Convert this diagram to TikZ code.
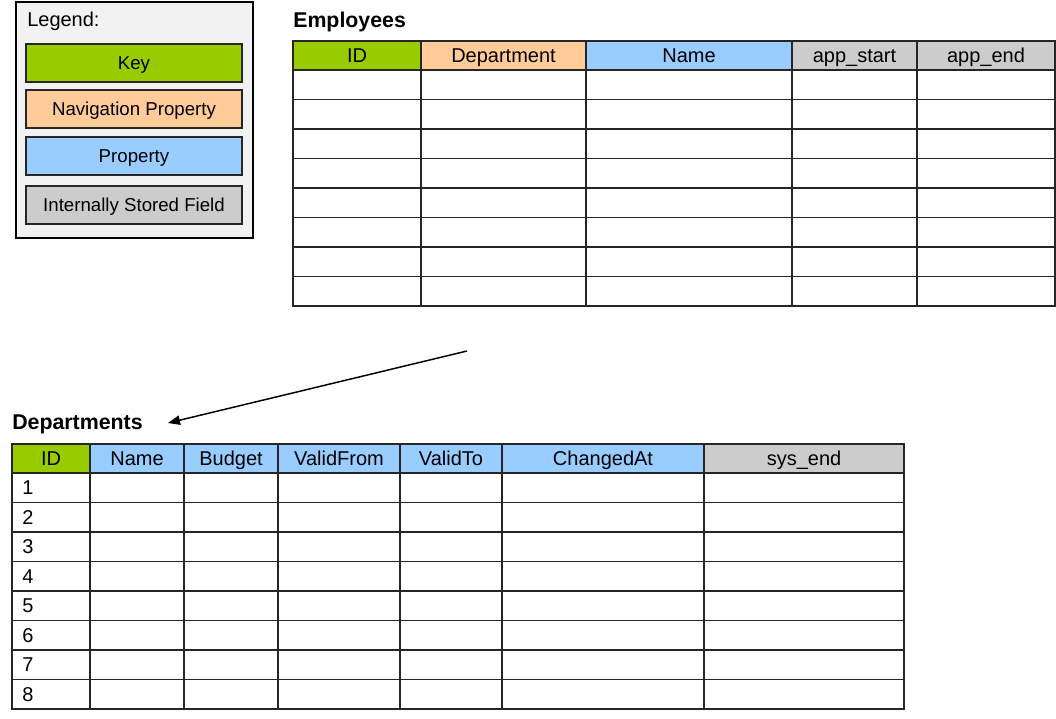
\documentclass[tikz,border=0pt]{standalone}
\usepackage{fontspec}
\setmainfont{Liberation Sans}
\usetikzlibrary{arrows.meta,positioning}

\definecolor{keygreen}{HTML}{99CC00}
\definecolor{navorange}{HTML}{FFCC99}
\definecolor{propblue}{HTML}{99CCFF}
\definecolor{storedgray}{HTML}{CCCCCC}
\definecolor{legendback}{HTML}{F2F2F2}
\definecolor{gridline}{HTML}{262626}

\tikzset{
  cell/.style={draw=gridline, line width=0.8pt},
  headtext/.style={font=\fontsize{15}{18}\selectfont, text height=13pt, text depth=2.3pt, inner sep=0pt},
  legenditem/.style={draw=gridline, line width=1.5pt, minimum width=162pt, minimum height=28.5pt,
    font=\fontsize{14}{16}\selectfont, text height=12.5pt, text depth=2.5pt},
  tabletitle/.style={anchor=west, inner sep=0pt, font=\fontsize{16}{19}\selectfont\bfseries},
}

\begin{document}
\begin{tikzpicture}[x=0.75pt, y=-0.75pt]
				\useasboundingbox (0,0) rectangle (1056,718);

				\draw [line width=1.5pt, fill=legendback] (16,2) rectangle (253,238);
				\node (legendtitle) at (27,21) [anchor=west, inner sep=0pt, font=\fontsize{15}{18}\selectfont] {Legend:};
				\node (keyitem) at (134,63) [legenditem, fill=keygreen] {Key};
				\node (navitem) at (134,108.5) [legenditem, fill=navorange] {Navigation Property};
				\node (propitem) at (134,156) [legenditem, fill=propblue] {Property};
				\node (storeditem) at (134,204.5) [legenditem, fill=storedgray] {Internally Stored Field};

				\node (emptitle) at (293,21.5) [tabletitle] {Employees};
				\foreach \l/\r/\key/\txt/\col in {293/421/id/ID/keygreen, 421/586/dept/Department/navorange,
						586/792/name/Name/propblue, 792/917/start/app\_start/storedgray, 917/1055/end/app\_end/storedgray} {
					\draw [cell, fill=\col] (\l,41) rectangle (\r,70);
					\node (emp-\key) at ({(\l+\r)/2},55.5) [headtext] {\txt};
					\foreach \row in {1,...,8}
						\draw [cell] (\l,{70+(\row-1)*29.5}) rectangle (\r,{70+\row*29.5});
				}

				\node (deptitle) at (12,424) [tabletitle] {Departments};
				\foreach \l/\r/\key/\txt/\col in {12/90/id/ID/keygreen, 90/184/name/Name/propblue,
						184/278/budget/Budget/propblue, 278/400/from/ValidFrom/propblue, 400/502/to/ValidTo/propblue,
						502/704/changed/ChangedAt/propblue, 704/904/end/sys\_end/storedgray} {
					\draw [cell, fill=\col] (\l,444) rectangle (\r,473);
					\node (dep-\key) at ({(\l+\r)/2},458.5) [headtext] {\txt};
					\foreach \row in {1,...,8}
						\draw [cell] (\l,{473+(\row-1)*29.5}) rectangle (\r,{473+\row*29.5});
				}
				\foreach \row in {1,...,8}
					\node (dep-row\row) at (22,{473+(\row-0.5)*29.5}) [headtext, anchor=west] {\row};

				\coordinate (linkstart) at (467,351);
				\coordinate (linkend) at (168,423);
				\draw [line width=1.1pt, -{Triangle[length=9pt,width=7pt]}] (linkstart) -- (linkend);
			\end{tikzpicture}
\end{document}
